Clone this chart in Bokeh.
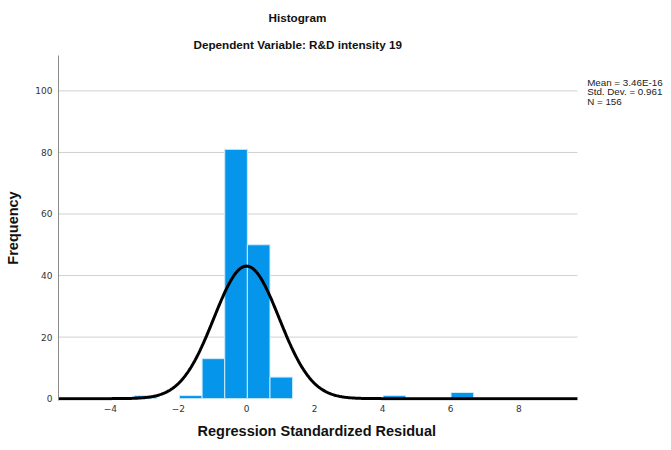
import numpy as np
from bokeh.plotting import figure
from bokeh.models import Title, Range1d, FixedTicker, ColumnDataSource, Label
from bokeh.embed import file_html
from bokeh.resources import INLINE

# ---- data ----
bin_left = [-3.30, -1.97, -1.305, -0.64, 0.025, 0.69, 4.015, 6.01]
counts = [1, 1, 13, 81, 50, 7, 1, 2]
bin_width = 0.665
mean_val = 3.46e-16
std_val = 0.961
n_val = 156
x_ticks = [-4, -2, 0, 2, 4, 6, 8]
y_ticks = [0, 20, 40, 60, 80, 100]
stats_lines = ["Mean = 3.46E-16", "Std. Dev. = 0.961", "N = 156"]
x_title = "Regression Standardized Residual"
y_title = "Frequency"

X_MIN, X_MAX = -5.525, 9.725      # drawn chart area
Y_MIN, Y_MAX = -0.6, 111.5

left = np.array(bin_left)
right = left + bin_width
src = ColumnDataSource(dict(left=left, right=right, top=counts, bottom=[0] * len(counts)))

p = figure(width=671, height=450, output_backend="svg", toolbar_location=None,
           x_range=Range1d(X_MIN, 12.489), y_range=Range1d(Y_MIN, Y_MAX),
           min_border_left=58, min_border_right=0, min_border_bottom=50, min_border_top=55)
p.outline_line_color = None
p.background_fill_color = "white"

# horizontal gridlines limited to the chart area
grid_y = [t for t in y_ticks if t > 0]
p.segment(x0=[X_MIN] * len(grid_y), x1=[X_MAX] * len(grid_y), y0=grid_y, y1=grid_y,
          line_color="#D0D0D0", line_width=1)

p.quad(left="left", right="right", top="top", bottom="bottom", source=src,
       fill_color="#0596EC", line_color="#CDEBFA", line_width=1)

xs = np.linspace(X_MIN, X_MAX, 600)
ys = n_val * bin_width / (std_val * np.sqrt(2 * np.pi)) * np.exp(-0.5 * ((xs - mean_val) / std_val) ** 2)
p.line(xs, ys, line_color="black", line_width=3)

font = "Liberation Sans"
p.xaxis.ticker = FixedTicker(ticks=x_ticks)
p.yaxis.ticker = FixedTicker(ticks=y_ticks)
p.xgrid.grid_line_color = None
p.ygrid.grid_line_color = None
for ax in (p.xaxis, p.yaxis):
    ax.major_tick_line_color = None
    ax.major_tick_out = 0
    ax.major_tick_in = 0
    ax.minor_tick_line_color = None
    ax.minor_tick_out = 0
    ax.major_label_text_font = "DejaVu Sans"
    ax.major_label_text_font_size = "9px"
    ax.major_label_text_color = "#333333"
    ax.axis_label_text_font = font
    ax.axis_label_text_font_style = "bold"
    ax.axis_label_text_font_size = "14.5px"
    ax.axis_label_text_color = "#111111"
p.yaxis.axis_line_color = "#8A8A8A"
p.xaxis.axis_line_color = None
p.yaxis.axis_label = y_title
p.xaxis.major_label_standoff = 4
p.yaxis.major_label_standoff = 6
p.yaxis.axis_label_standoff = 11

p.add_layout(Title(text=x_title, align="left", offset=139, text_font=font,
                   text_font_style="bold", text_font_size="14.5px",
                   text_color="#111111", standoff=12), "below")

p.add_layout(Title(text="Dependent Variable: R&D intensity 19", align="left", offset=135,
                   text_font=font, text_font_style="bold", text_font_size="11.7px",
                   text_color="#111111", standoff=10), "above")
p.add_layout(Title(text="Histogram", align="left", offset=210,
                   text_font=font, text_font_style="bold", text_font_size="11.7px",
                   text_color="#111111", standoff=14), "above")

stat_y = [102.7, 99.7, 96.4]
for t, yy in zip(stats_lines, stat_y):
    p.add_layout(Label(x=10.01, y=yy, text=t, text_font=font, text_font_size="9.8px",
                       text_color="#222222", text_baseline="alphabetic"))

open("out.html", "w").write(file_html(p, INLINE))
